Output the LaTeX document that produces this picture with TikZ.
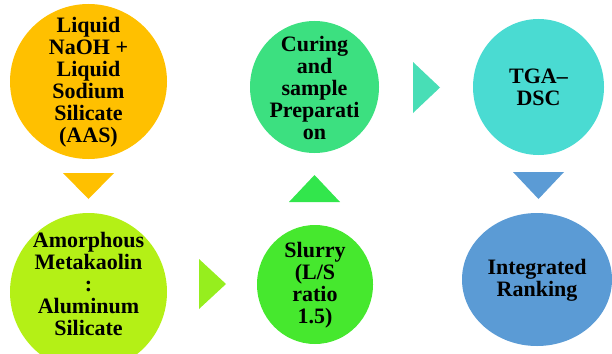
\documentclass[tikz,border=0pt]{standalone}
\usepackage{fontspec}
\setmainfont{Liberation Serif}
\usepackage{tikz}

\definecolor{cAAS}{RGB}{255,192,0}
\definecolor{cMK}{RGB}{180,240,22}
\definecolor{cArrMK}{RGB}{150,238,30}
\definecolor{cSlurry}{RGB}{70,232,46}
\definecolor{cArrSl}{RGB}{50,230,76}
\definecolor{cCuring}{RGB}{60,224,128}
\definecolor{cArrCu}{RGB}{72,222,182}
\definecolor{cTGA}{RGB}{74,219,210}
\definecolor{cRank}{RGB}{91,155,213}

\begin{document}
\begin{tikzpicture}[x=1pt,y=1pt,yscale=-1,xscale=1,
    steptext/.style={font=\bfseries\fontsize{22}{22}\selectfont, align=center, inner sep=0pt}]
    \useasboundingbox (0,0) rectangle (612,353);
    \clip (0,0) rectangle (612,353);
    %Shape: Ellipse [AAS]
    \fill [cAAS] (88.5,81.5) ellipse [x radius=78.5, y radius=77.5];
    %Shape: Ellipse [Metakaolin]
    \fill [cMK] (88.5,292) ellipse [x radius=78.5, y radius=79];
    %Shape: Ellipse [Slurry]
    \fill [cSlurry] (315,284.5) ellipse [x radius=58, y radius=59.5];
    %Shape: Ellipse [Curing]
    \fill [cCuring] (314.5,87) ellipse [x radius=64.5, y radius=66];
    %Shape: Ellipse [TGA]
    \fill [cTGA] (538.5,87) ellipse [x radius=65.5, y radius=68];
    %Shape: Ellipse [Ranking]
    \fill [cRank] (537,279.5) ellipse [x radius=75, y radius=66.5];

    %Shape: Triangle [down, AAS]
    \fill [cAAS] (63,173) -- (114,173) -- (88.5,199) -- cycle ;
    %Shape: Triangle [right, Metakaolin]
    \fill [cArrMK] (199,259) -- (226,284) -- (199,309) -- cycle ;
    %Shape: Triangle [up, Slurry]
    \fill [cArrSl] (289,202) -- (340,202) -- (314.5,175) -- cycle ;
    %Shape: Triangle [right, Curing]
    \fill [cArrCu] (413,62) -- (440,87.5) -- (413,113) -- cycle ;
    %Shape: Triangle [down, TGA]
    \fill [cRank] (513,172) -- (564,172) -- (538.5,199) -- cycle ;

    % Text Node
    \node [steptext] (aas) at (88.5,82) {Liquid\\NaOH +\\Liquid\\Sodium\\Silicate\\(AAS)};
    % Text Node
    \node [steptext] (mk) at (88.5,284) {Amorphous\\Metakaolin\\:\\Aluminum\\Silicate};
    % Text Node
    \node [steptext] (slurry) at (315,285) {Slurry\\(L/S\\ratio\\1.5)};
    % Text Node
    \node [steptext] (curing) at (314.5,88) {Curing\\and\\sample\\Preparati\\on};
    % Text Node
    \node [steptext] (tga) at (538.5,87) {TGA–\\DSC};
    % Text Node
    \node [steptext] (rank) at (537,280) {Integrated\\Ranking};
\end{tikzpicture}
\end{document}
